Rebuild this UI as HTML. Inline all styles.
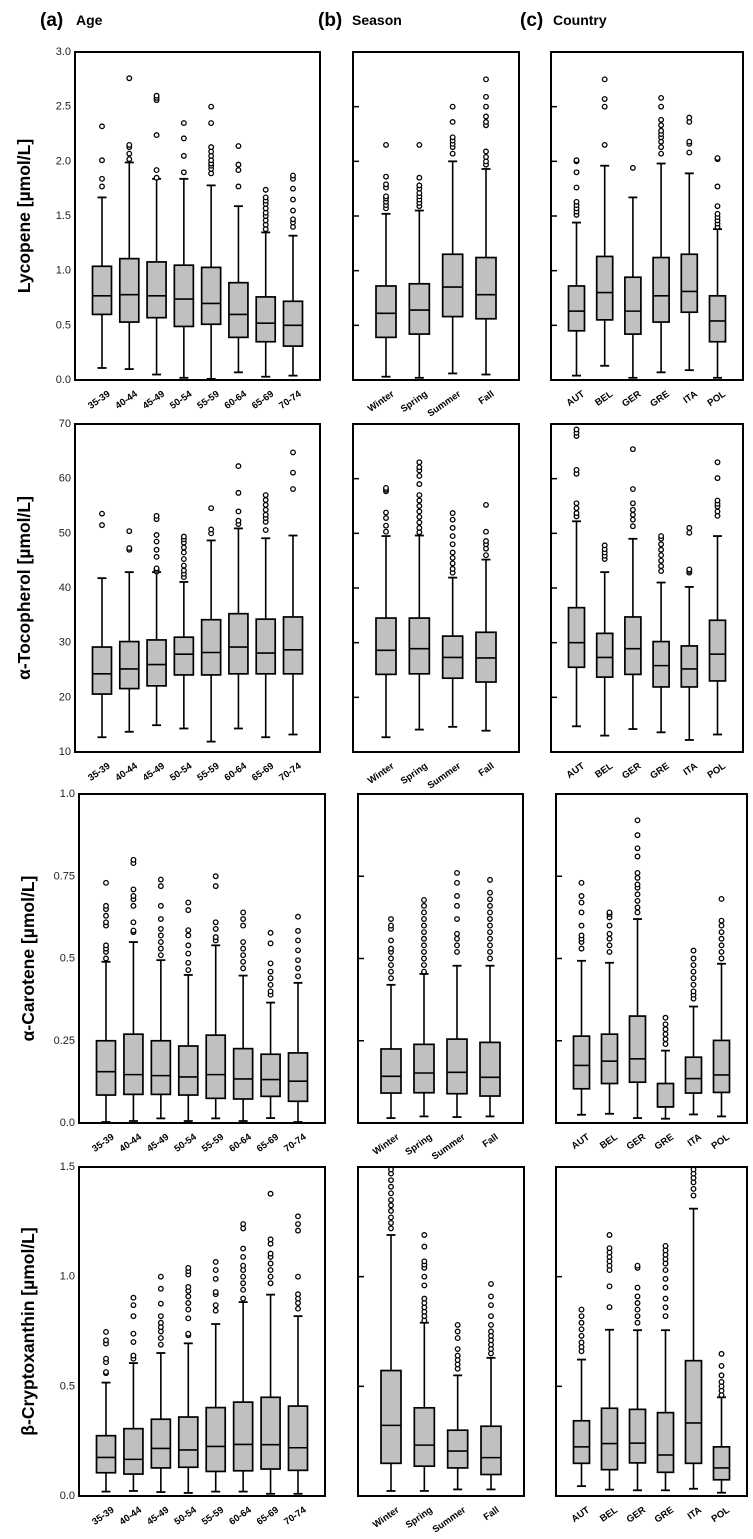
<!DOCTYPE html>
<html><head><meta charset="utf-8">
<style>
html,body{margin:0;padding:0;background:#fff;}
svg{display:block;font-family:"Liberation Sans",sans-serif;}
</style></head>
<body>
<svg id="chart" width="753" height="1539" viewBox="0 0 753 1539" xmlns="http://www.w3.org/2000/svg">
<g>
<text x="40" y="26" font-size="19" font-weight="bold">(a)</text>
<text x="76" y="25" font-size="14" font-weight="bold">Age</text>
<text x="318" y="26" font-size="19" font-weight="bold">(b)</text>
<text x="352" y="25" font-size="14" font-weight="bold">Season</text>
<text x="520" y="26" font-size="19" font-weight="bold">(c)</text>
<text x="553" y="25" font-size="14" font-weight="bold">Country</text>
</g>
</svg>
<script>
const ageCats = ["35-39","40-44","45-49","50-54","55-59","60-64","65-69","70-74"];
const seasonCats = ["Winter","Spring","Summer","Fall"];
const countryCats = ["AUT","BEL","GER","GRE","ITA","POL"];

// [low whisker, q1, median, q3, high whisker]
const lycAge = [[0.11,0.60,0.77,1.04,1.67],[0.10,0.53,0.78,1.11,1.99],[0.05,0.57,0.77,1.08,1.84],[0.02,0.49,0.74,1.05,1.84],[0.01,0.51,0.70,1.03,1.78],[0.07,0.39,0.60,0.89,1.59],[0.03,0.35,0.52,0.76,1.35],[0.04,0.31,0.50,0.72,1.32]];
const lycAgeOut = [[1.77,1.84,2.01,2.32],[2.02,2.07,2.13,2.15,2.76],[1.85,1.92,2.24,2.56,2.58,2.60],[1.90,2.05,2.21,2.35],[1.89,1.93,1.96,1.98,2.01,2.05,2.09,2.13,2.35,2.50],[1.77,1.92,1.97,2.14],[1.38,1.42,1.46,1.50,1.53,1.57,1.61,1.64,1.67,1.74],[1.40,1.44,1.47,1.55,1.65,1.75,1.84,1.87]];
const lycSeason = [[0.03,0.39,0.61,0.86,1.52],[0.02,0.42,0.64,0.88,1.55],[0.06,0.58,0.85,1.15,2.00],[0.05,0.56,0.78,1.12,1.93]];
const lycSeasonOut = [[1.57,1.60,1.63,1.66,1.68,1.76,1.79,1.86,2.15],[1.59,1.62,1.65,1.68,1.71,1.75,1.78,1.85,2.15],[2.07,2.13,2.16,2.19,2.22,2.36,2.50],[1.97,2.00,2.04,2.09,2.33,2.36,2.41,2.50,2.59,2.75]];
const lycCountry = [[0.04,0.45,0.63,0.86,1.44],[0.13,0.55,0.80,1.13,1.96],[0.02,0.42,0.63,0.94,1.67],[0.07,0.53,0.77,1.12,1.98],[0.09,0.62,0.81,1.15,1.89],[0.02,0.35,0.54,0.77,1.38]];
const lycCountryOut = [[1.51,1.54,1.57,1.60,1.63,1.76,1.90,2.00,2.01],[2.15,2.50,2.57,2.75],[1.94],[2.07,2.13,2.18,2.22,2.25,2.28,2.33,2.38,2.50,2.58],[2.08,2.16,2.18,2.36,2.40],[1.40,1.43,1.46,1.49,1.52,1.59,1.77,2.02,2.03]];

const tocAge = [[12.7,20.6,24.3,29.2,41.8],[13.7,21.6,25.2,30.2,42.9],[14.9,22.1,26.0,30.5,42.9],[14.3,24.1,27.9,31.0,41.1],[11.9,24.1,28.2,34.2,48.7],[14.3,24.3,29.2,35.3,50.9],[12.7,24.3,28.1,34.3,49.1],[13.2,24.3,28.7,34.7,49.6]];
const tocAgeOut = [[51.5,53.6],[47.0,47.3,50.4],[43.0,43.3,43.6,45.7,47.0,48.5,49.7,52.6,53.2],[42.0,42.6,43.2,44.1,45.3,46.5,47.4,48.3,48.9,49.4],[50.0,50.7,54.6],[51.7,52.3,54.0,57.4,62.3],[50.6,52.1,52.8,53.4,54.3,55.2,56.1,57.0],[58.1,61.1,64.8]];
const tocSeason = [[12.7,24.2,28.6,34.5,49.5],[14.1,24.3,28.9,34.5,49.6],[14.6,23.5,27.3,31.2,41.9],[13.9,22.8,27.2,31.9,45.2]];
const tocSeasonOut = [[50.3,51.4,52.8,53.8,57.7,58.0,58.3],[50.2,51.0,52.0,53.0,54.0,55.0,56.0,57.0,59.0,60.5,61.5,62.1,63.0],[42.8,43.5,44.5,45.5,46.5,48.0,49.5,51.0,52.5,53.7],[46.0,47.2,48.0,48.6,50.3,55.2]];
const tocCountry = [[14.7,25.5,30.0,36.4,52.2],[13.0,23.7,27.3,31.7,42.9],[14.2,24.2,28.9,34.7,49.0],[13.6,21.9,25.8,30.2,41.0],[12.2,21.9,25.2,29.4,40.2],[13.2,23.0,27.9,34.1,49.5]];
const tocCountryOut = [[53.1,53.7,54.6,55.5,60.9,61.6,67.8,68.4,69.0],[45.3,45.9,46.5,47.1,47.8],[51.3,52.5,53.4,54.3,55.5,58.1,65.4],[43.1,44.0,45.0,46.0,47.0,48.0,49.0,49.5],[42.8,43.1,43.4,50.1,51.0],[53.2,54.0,54.9,55.4,56.0,60.1,63.0]];

const acaAge = [[0.003,0.085,0.156,0.25,0.49],[0.006,0.087,0.147,0.27,0.55],[0.014,0.087,0.144,0.25,0.495],[0.006,0.085,0.14,0.234,0.45],[0.014,0.075,0.147,0.267,0.54],[0.006,0.073,0.134,0.226,0.448],[0.015,0.081,0.132,0.209,0.366],[0.003,0.066,0.127,0.213,0.426]];
const acaAgeOut = [[0.50,0.52,0.53,0.54,0.60,0.61,0.63,0.65,0.66,0.73],[0.58,0.585,0.61,0.66,0.68,0.69,0.71,0.79,0.80],[0.51,0.53,0.55,0.57,0.59,0.62,0.66,0.72,0.74],[0.465,0.487,0.515,0.54,0.57,0.586,0.647,0.67],[0.555,0.565,0.59,0.61,0.72,0.75],[0.47,0.49,0.51,0.53,0.55,0.60,0.62,0.64],[0.39,0.40,0.42,0.44,0.46,0.485,0.546,0.578],[0.446,0.47,0.495,0.525,0.555,0.584,0.627]];
const acaSeason = [[0.015,0.091,0.142,0.225,0.42],[0.02,0.092,0.152,0.239,0.453],[0.018,0.089,0.154,0.255,0.478],[0.02,0.082,0.139,0.245,0.478]];
const acaSeasonOut = [[0.44,0.46,0.48,0.50,0.52,0.53,0.555,0.59,0.60,0.62],[0.46,0.48,0.50,0.52,0.54,0.56,0.58,0.60,0.62,0.64,0.66,0.678],[0.52,0.54,0.56,0.575,0.62,0.66,0.69,0.73,0.76],[0.50,0.52,0.54,0.56,0.58,0.60,0.62,0.64,0.66,0.68,0.70,0.739]];
const acaCountry = [[0.025,0.104,0.175,0.264,0.493],[0.028,0.12,0.188,0.27,0.487],[0.015,0.124,0.195,0.325,0.62],[0.013,0.049,0.049,0.12,0.22],[0.026,0.091,0.135,0.2,0.354],[0.02,0.093,0.146,0.251,0.484]];
const acaCountryOut = [[0.53,0.55,0.56,0.57,0.60,0.64,0.67,0.69,0.73],[0.52,0.54,0.56,0.575,0.60,0.625,0.635,0.64],[0.64,0.655,0.675,0.695,0.715,0.725,0.745,0.76,0.81,0.835,0.875,0.92],[0.24,0.255,0.27,0.285,0.30,0.32],[0.378,0.39,0.40,0.42,0.44,0.46,0.48,0.50,0.524],[0.50,0.52,0.54,0.56,0.58,0.60,0.615,0.681]];

const bcrAge = [[0.02,0.106,0.176,0.275,0.517],[0.023,0.10,0.167,0.307,0.606],[0.018,0.128,0.217,0.35,0.652],[0.014,0.131,0.21,0.36,0.696],[0.02,0.112,0.226,0.403,0.784],[0.02,0.115,0.235,0.428,0.884],[0.01,0.123,0.234,0.45,0.918],[0.01,0.117,0.22,0.41,0.82]];
const bcrAgeOut = [[0.56,0.565,0.61,0.626,0.695,0.71,0.748],[0.626,0.64,0.702,0.74,0.82,0.87,0.904],[0.69,0.72,0.75,0.77,0.79,0.82,0.877,0.945,1.0],[0.733,0.74,0.81,0.85,0.88,0.91,0.935,0.953,1.01,1.025,1.04],[0.845,0.87,0.92,0.93,0.99,1.03,1.067],[0.9,0.94,0.97,1.0,1.03,1.05,1.09,1.128,1.22,1.24],[0.97,1.0,1.03,1.06,1.09,1.105,1.15,1.17,1.378],[0.854,0.88,0.9,0.92,1.0,1.21,1.24,1.275]];
const bcrSeason = [[0.023,0.149,0.322,0.572,1.19],[0.023,0.136,0.232,0.402,0.79],[0.03,0.128,0.205,0.30,0.55],[0.03,0.098,0.175,0.318,0.63]];
const bcrSeasonOut = [[1.22,1.245,1.27,1.30,1.325,1.35,1.38,1.41,1.44,1.47,1.50],[0.80,0.82,0.84,0.86,0.88,0.90,0.96,1.0,1.04,1.055,1.07,1.137,1.19],[0.58,0.60,0.62,0.64,0.67,0.72,0.75,0.78],[0.65,0.67,0.69,0.71,0.73,0.75,0.78,0.82,0.87,0.91,0.967]];
const bcrCountry = [[0.045,0.149,0.224,0.343,0.622],[0.029,0.12,0.239,0.40,0.758],[0.026,0.151,0.241,0.395,0.756],[0.026,0.108,0.187,0.38,0.756],[0.033,0.149,0.333,0.617,1.31],[0.015,0.074,0.128,0.224,0.45]];
const bcrCountryOut = [[0.66,0.68,0.70,0.73,0.76,0.79,0.82,0.85],[0.861,0.956,1.03,1.05,1.07,1.09,1.11,1.13,1.19],[0.79,0.82,0.85,0.88,0.91,0.95,1.04,1.05],[0.82,0.86,0.90,0.95,0.99,1.03,1.06,1.08,1.10,1.12,1.14],[1.37,1.40,1.43,1.45,1.47,1.50],[0.46,0.48,0.50,0.52,0.55,0.593,0.648]];

const lycTicks = [0,0.5,1,1.5,2,2.5,3];
const lycTickLabels = ["0.0","0.5","1.0","1.5","2.0","2.5","3.0"];
const tocTicks = [10,20,30,40,50,60,70];
const tocTickLabels = ["10","20","30","40","50","60","70"];
const acaTicks = [0,0.25,0.5,0.75,1];
const acaTickLabels = ["0.0","0.25","0.5","0.75","1.0"];
const bcrTicks = [0,0.5,1,1.5];
const bcrTickLabels = ["0.0","0.5","1.0","1.5"];
const rowTitles = ["Lycopene [µmol/L]","α-Tocopherol [µmol/L]","α-Carotene [µmol/L]","β-Cryptoxanthin [µmol/L]"];

const NS = "http://www.w3.org/2000/svg";
const svg = document.getElementById("chart");
function mk(tag, attrs, parent){
  const e = document.createElementNS(NS, tag);
  for (const k in attrs) e.setAttribute(k, attrs[k]);
  (parent||svg).appendChild(e);
  return e;
}

// layout (pixel geometry)
const rowGeom = [
  {top:52,bottom:380,ticks:lycTicks,labels:lycTickLabels,titleX:24,cols:[{l:75,r:320},{l:353,r:519},{l:551,r:743}],data:[[lycAge,lycAgeOut],[lycSeason,lycSeasonOut],[lycCountry,lycCountryOut]]},
  {top:424,bottom:752,ticks:tocTicks,labels:tocTickLabels,titleX:24,cols:[{l:75,r:320},{l:353,r:519},{l:551,r:743}],data:[[tocAge,tocAgeOut],[tocSeason,tocSeasonOut],[tocCountry,tocCountryOut]]},
  {top:794,bottom:1123,ticks:acaTicks,labels:acaTickLabels,titleX:28,cols:[{l:79,r:325},{l:358,r:523},{l:556,r:747}],data:[[acaAge,acaAgeOut],[acaSeason,acaSeasonOut],[acaCountry,acaCountryOut]]},
  {top:1167,bottom:1496,ticks:bcrTicks,labels:bcrTickLabels,titleX:28,cols:[{l:79,r:325},{l:358,r:524},{l:556,r:747}],data:[[bcrAge,bcrAgeOut],[bcrSeason,bcrSeasonOut],[bcrCountry,bcrCountryOut]]}
];
const colCats = [ageCats, seasonCats, countryCats];
const colPad = [27, 33, 25.5];
const colBoxW = [19, 20, 16];
const colNames = ["age","season","country"];

rowGeom.forEach((row, ri) => {
  const ymin = row.ticks[0], ymax = row.ticks[row.ticks.length-1];
  const y = v => row.bottom - (v - ymin) / (ymax - ymin) * (row.bottom - row.top);
  const title = mk("text", {x:row.titleX, y:(row.top+row.bottom)/2, "font-size":17.5, "font-weight":"bold", "text-anchor":"middle", "dominant-baseline":"central", transform:`rotate(-90 ${row.titleX} ${(row.top+row.bottom)/2})`});
  
  
  title.textContent = rowTitles[ri];

  row.cols.forEach((c, ci) => {
    const g = mk("g", {});
    
    
    const cats = colCats[ci];
    const [stats, outs] = row.data[ci];
    const n = cats.length;
    const step = (c.r - c.l - 2*colPad[ci]) / (n-1);
    const x = i => c.l + colPad[ci] + i*step;
    const bw = colBoxW[ci];

    // ticks
    row.ticks.forEach((t, ti) => {
      if (ci === 0) {
        const tl = mk("text", {x:c.l-4, y:y(t), "font-size":11, fill:"#222", "text-anchor":"end", "dominant-baseline":"central"}, g);
        
        
        tl.textContent = row.labels[ti];
      } else if (ti > 0 && ti < row.ticks.length-1) {
        const tk = mk("line", {x1:c.l, x2:c.l+6, y1:y(t), y2:y(t), stroke:"#000", "stroke-width":1.5}, g);
        
        
      }
    });

    stats.forEach((s, i) => {
      const cx = x(i);
      const [lo, q1, med, q3, hi] = s;
      const w = mk("line", {x1:cx, x2:cx, y1:y(lo), y2:y(hi), stroke:"#000", "stroke-width":1.6}, g);
      
      
      [lo, hi].forEach(v => {
        const cap = mk("line", {x1:cx-4.5, x2:cx+4.5, y1:y(v), y2:y(v), stroke:"#000", "stroke-width":1.8}, g);
        
        
      });
      const b = mk("rect", {x:cx-bw/2, y:y(q3), width:bw, height:y(q1)-y(q3), fill:"#c0c0c0", stroke:"#000", "stroke-width":1.7}, g);
      
      
      const m = mk("line", {x1:cx-bw/2, x2:cx+bw/2, y1:y(med), y2:y(med), stroke:"#000", "stroke-width":1.6}, g);
      
      
      outs[i].forEach(v => {
        if (v > ymax + 0.001) return;
        const o = mk("circle", {cx:cx, cy:Math.max(y(v), row.top+2.5), r:2.3, fill:"#fff", stroke:"#000", "stroke-width":1.3}, g);
        
        
      });
      const lx = cx + 5, ly = row.bottom + 10;
      const lab = mk("text", {x:lx, y:ly, "font-size":9.5, "font-weight":"bold", "text-anchor":"end", "dominant-baseline":"hanging", transform:`rotate(-35 ${lx} ${ly})`}, g);
      
      
      lab.textContent = cats[i];
    });

    const f = mk("rect", {x:c.l, y:row.top, width:c.r-c.l, height:row.bottom-row.top, fill:"none", stroke:"#000", "stroke-width":2}, g);
    
    
  });
});
</script>
</body></html>
